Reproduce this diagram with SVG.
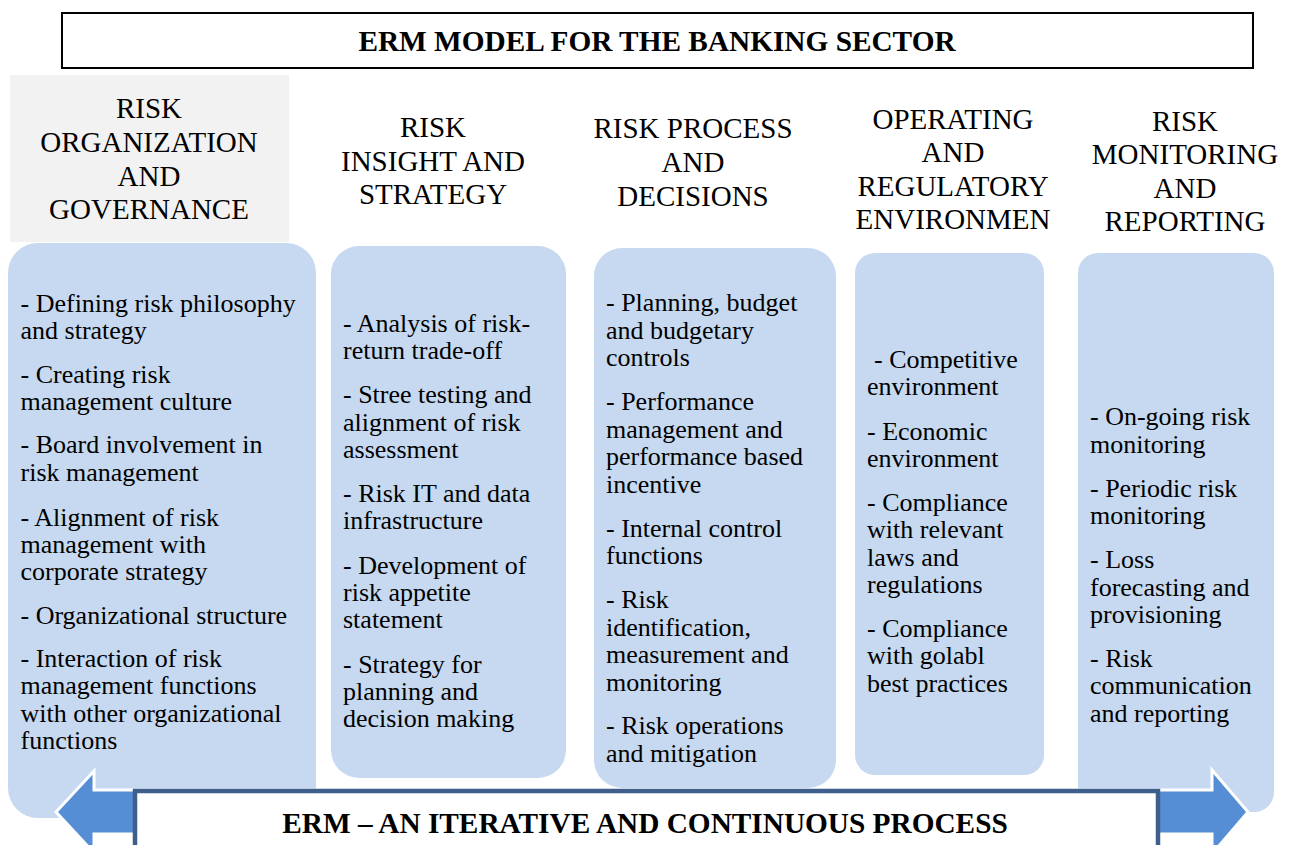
<svg xmlns="http://www.w3.org/2000/svg" width="1290" height="845" viewBox="0 0 1290 845">
<style>
  .col { fill: #c6d9f0; }
  .hd { font-family: "Liberation Serif", "Times New Roman", serif; font-size: 29px; fill: #000; text-anchor: middle; }
  .bd { font-family: "Liberation Serif", "Times New Roman", serif; font-size: 26px; fill: #000; }
  .ttl { font-family: "Liberation Serif", "Times New Roman", serif; font-size: 29.3px; font-weight: bold; fill: #000; text-anchor: middle; }
</style>
<rect width="1290" height="845" fill="#ffffff"/>

<g id="title">
  <rect x="62" y="13" width="1191" height="55" fill="#ffffff" stroke="#000" stroke-width="2"/>
  <text class="ttl" x="657" y="51">ERM MODEL FOR THE BANKING SECTOR</text>
</g>

<g id="col1">
  <rect x="10" y="75" width="279" height="167" fill="#f2f2f2"/>
  <text class="hd" x="149" y="118">RISK</text>
  <text class="hd" x="149" y="152">ORGANIZATION</text>
  <text class="hd" x="149" y="186">AND</text>
  <text class="hd" x="149" y="219">GOVERNANCE</text>
  <rect class="col" x="8" y="243" width="308" height="575" rx="30"/>
  <text class="bd" x="20.5" y="312">- Defining risk philosophy</text>
  <text class="bd" x="20.5" y="339">and strategy</text>
  <text class="bd" x="20.5" y="383">- Creating risk</text>
  <text class="bd" x="20.5" y="410">management culture</text>
  <text class="bd" x="20.5" y="453">- Board involvement in</text>
  <text class="bd" x="20.5" y="481">risk management</text>
  <text class="bd" x="20.5" y="526">- Alignment of risk</text>
  <text class="bd" x="20.5" y="553">management with</text>
  <text class="bd" x="20.5" y="580">corporate strategy</text>
  <text class="bd" x="20.5" y="624">- Organizational structure</text>
  <text class="bd" x="20.5" y="667">- Interaction of risk</text>
  <text class="bd" x="20.5" y="694">management functions</text>
  <text class="bd" x="20.5" y="722">with other organizational</text>
  <text class="bd" x="20.5" y="749">functions</text>
</g>

<g id="col2">
  <text class="hd" x="433" y="137">RISK</text>
  <text class="hd" x="433" y="171">INSIGHT AND</text>
  <text class="hd" x="433" y="204">STRATEGY</text>
  <rect class="col" x="331" y="246" width="235" height="532" rx="28"/>
  <text class="bd" x="343" y="332">- Analysis of risk-</text>
  <text class="bd" x="343" y="359">return trade-off</text>
  <text class="bd" x="343" y="403">- Stree testing and</text>
  <text class="bd" x="343" y="431">alignment of risk</text>
  <text class="bd" x="343" y="458">assessment</text>
  <text class="bd" x="343" y="502">- Risk IT and data</text>
  <text class="bd" x="343" y="529">infrastructure</text>
  <text class="bd" x="343" y="574">- Development of</text>
  <text class="bd" x="343" y="601">risk appetite</text>
  <text class="bd" x="343" y="628">statement</text>
  <text class="bd" x="343" y="673">- Strategy for</text>
  <text class="bd" x="343" y="700">planning and</text>
  <text class="bd" x="343" y="727">decision making</text>
</g>

<g id="col3">
  <text class="hd" x="693" y="138">RISK PROCESS</text>
  <text class="hd" x="693" y="172">AND</text>
  <text class="hd" x="693" y="206">DECISIONS</text>
  <rect class="col" x="594" y="248" width="242" height="540" rx="28"/>
  <text class="bd" x="606" y="311">- Planning, budget</text>
  <text class="bd" x="606" y="338.5">and budgetary</text>
  <text class="bd" x="606" y="366">controls</text>
  <text class="bd" x="606" y="410">- Performance</text>
  <text class="bd" x="606" y="437.5">management and</text>
  <text class="bd" x="606" y="465">performance based</text>
  <text class="bd" x="606" y="492.5">incentive</text>
  <text class="bd" x="606" y="536.5">- Internal control</text>
  <text class="bd" x="606" y="564">functions</text>
  <text class="bd" x="606" y="608">- Risk</text>
  <text class="bd" x="606" y="635.5">identification,</text>
  <text class="bd" x="606" y="663">measurement and</text>
  <text class="bd" x="606" y="690.5">monitoring</text>
  <text class="bd" x="606" y="734">- Risk operations</text>
  <text class="bd" x="606" y="761.5">and mitigation</text>
</g>

<g id="col4">
  <text class="hd" x="953" y="129">OPERATING</text>
  <text class="hd" x="953" y="162">AND</text>
  <text class="hd" x="953" y="196">REGULATORY</text>
  <text class="hd" x="953" y="229">ENVIRONMEN</text>
  <rect class="col" x="855" y="253" width="189" height="522" rx="20"/>
  <text class="bd" x="874" y="368">- Competitive</text>
  <text class="bd" x="867" y="395">environment</text>
  <text class="bd" x="867" y="440">- Economic</text>
  <text class="bd" x="867" y="467">environment</text>
  <text class="bd" x="867" y="511">- Compliance</text>
  <text class="bd" x="867" y="538">with relevant</text>
  <text class="bd" x="867" y="566">laws and</text>
  <text class="bd" x="867" y="593">regulations</text>
  <text class="bd" x="867" y="637">- Compliance</text>
  <text class="bd" x="867" y="664">with golabl</text>
  <text class="bd" x="867" y="692">best practices</text>
</g>

<g id="col5">
  <text class="hd" x="1185" y="131">RISK</text>
  <text class="hd" x="1185" y="164">MONITORING</text>
  <text class="hd" x="1185" y="198">AND</text>
  <text class="hd" x="1185" y="231">REPORTING</text>
  <rect class="col" x="1078" y="253" width="196" height="559" rx="20"/>
  <text class="bd" x="1090" y="425">- On-going risk</text>
  <text class="bd" x="1090" y="453">monitoring</text>
  <text class="bd" x="1090" y="497">- Periodic risk</text>
  <text class="bd" x="1090" y="524">monitoring</text>
  <text class="bd" x="1090" y="568">- Loss</text>
  <text class="bd" x="1090" y="596">forecasting and</text>
  <text class="bd" x="1090" y="623">provisioning</text>
  <text class="bd" x="1090" y="667">- Risk</text>
  <text class="bd" x="1090" y="694">communication</text>
  <text class="bd" x="1090" y="722">and reporting</text>
</g>

<g id="connectors">
  <polygon points="56,812 94,771 94,790 1212,790 1212,770 1248,812 1212,854 1212,834 94,834 94,853" fill="#558ed5" stroke="#ffffff" stroke-width="3" stroke-linejoin="miter"/>
</g>

<g id="process">
  <rect x="135" y="791" width="1023" height="64" fill="#ffffff" stroke="#3e5f8c" stroke-width="4.5"/>
  <text class="ttl" x="645" y="833">ERM – AN ITERATIVE AND CONTINUOUS PROCESS</text>
</g>
</svg>
